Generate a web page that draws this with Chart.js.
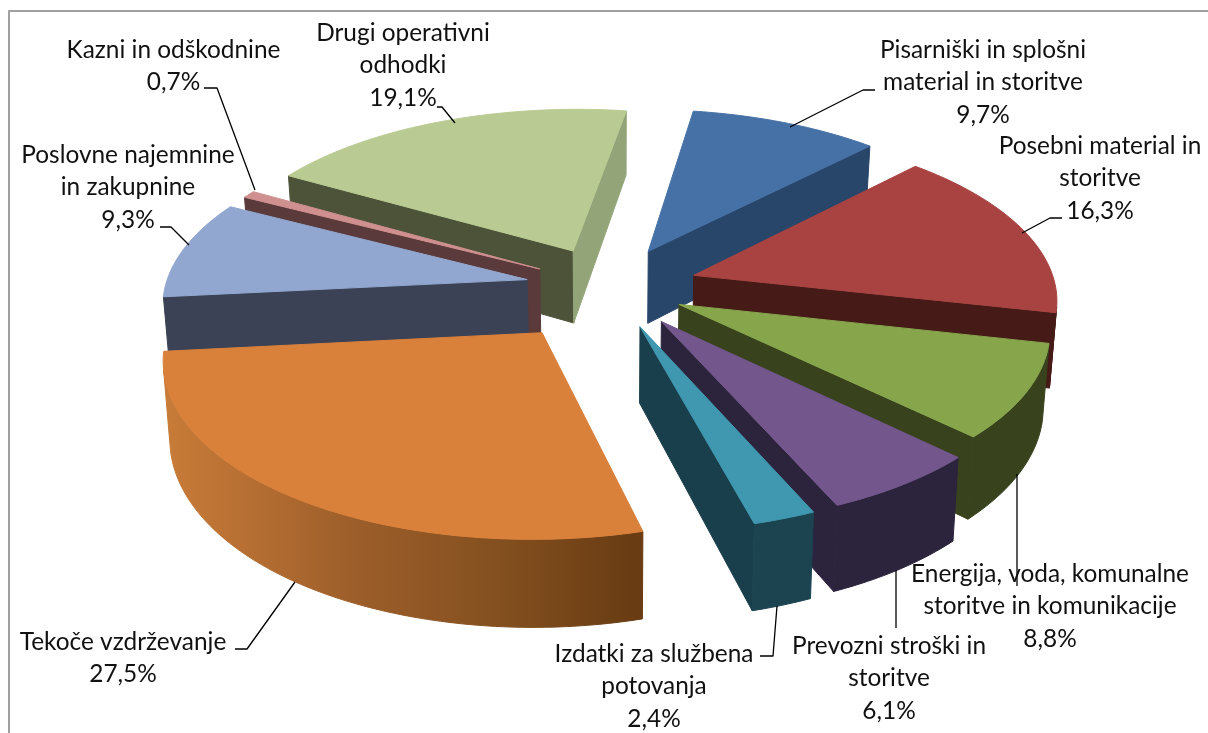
<!DOCTYPE html>
<html><head><meta charset="utf-8">
<style>html,body{margin:0;padding:0;background:#fff}canvas{display:block}</style>
<script src="https://cdn.jsdelivr.net/npm/chart.js@4/dist/chart.umd.min.js"></script>
</head><body>
<div style="width:1208px;height:733px;position:relative"><canvas id="c" width="1208" height="733"></canvas></div>
<script>
const categories = ["Pisarniški in splošni material in storitve","Posebni material in storitve","Energija, voda, komunalne storitve in komunikacije","Prevozni stroški in storitve","Izdatki za službena potovanja","Tekoče vzdrževanje","Poslovne najemnine in zakupnine","Kazni in odškodnine","Drugi operativni odhodki"];
const values = [9.7,16.3,8.8,6.1,2.4,27.5,9.3,0.7,19.1];
const explode = [77,77,67.6,77,77,101,74,71,77];
const topColors = ["#4671A6","#A84341","#87A64C","#72568C","#3F97B0","#D9803B","#91A7CF","#CF908F","#B9CB92"];
const startWall = ["#28456A","#451A17","#38431D","#2C233D","#1A3F4C","#6B3D14","#3B4255","#5A3A3A","#4C5339"];
const endWall = ["#28456A","#451A17","#38431D","#2C233D","#1A3F4C","#8C5525","#3B4255","#5A3A3A","#93A578"];
const outerWall = ["#28456A","#451A17","#38431D","#2C233D","#1B4350","orange","#3B4255","#5A3A3A","#4C5339"];
const paintOrder = [8,0,7,6,1,2,3,4,5];
const labelLines = [["Pisarniški in splošni","material in storitve","9,7%"],["Posebni material in","storitve","16,3%"],["Energija, voda, komunalne","storitve in komunikacije","8,8%"],["Prevozni stroški in","storitve","6,1%"],["Izdatki za službena","potovanja","2,4%"],["Tekoče vzdrževanje","27,5%"],["Poslovne najemnine","in zakupnine","9,3%"],["Kazni in odškodnine","0,7%"],["Drugi operativni","odhodki","19,1%"]];
const labelX = [983,1100,1050,889,654,123,128,173.5,403];
const labelY = [50,146,574,646,654,642,155,50,33];
const leaders = [[[875,90],[863,90],[790,127]],[[1062,218],[1050,218],[1022,233]],[[1017,474],[1017,586]],[[896,570],[896,628]],[[777,606],[773,656],[760,656]],[[295,582],[247,649],[235,649]],[[160,227],[171,227],[189,245]],[[204,88],[217,88],[255,190]],[[437,107],[442,107],[455,123]]];
const VIEW = {x0:610,y0:287,a:362,b:168,p:0.126,depth:74,shrink:0.985};

function project(X,Y,z){
  const w = 1+VIEW.p*Y, s = z?VIEW.shrink:1;
  return [VIEW.x0+VIEW.a*s*X/w, VIEW.y0-VIEW.b*Y/w+(z?VIEW.depth/w:0)];
}
function area(p){let s=0;p.forEach((q,i)=>{const r=p[(i+1)%p.length];s+=q[0]*r[1]-r[0]*q[1];});return s/2;}
function poly(ctx,pts,fill){
  ctx.beginPath();pts.forEach((p,i)=>i?ctx.lineTo(p[0],p[1]):ctx.moveTo(p[0],p[1]));ctx.closePath();
  ctx.fillStyle=fill;ctx.fill();ctx.strokeStyle=fill;ctx.lineWidth=1;ctx.lineJoin="round";ctx.stroke();
}
const pie3d = {
  id:'pie3d',
  beforeDatasetDraw(chart,args){
    const ctx=chart.ctx, arcs=args.meta.data;
    const grad=ctx.createLinearGradient(170,0,635,0);
    grad.addColorStop(0,"#C77B38");grad.addColorStop(.15,"#B87033");grad.addColorStop(.4,"#9C5E2A");grad.addColorStop(.7,"#84501F");grad.addColorStop(1,"#693C13");
    paintOrder.forEach(i=>{
      const el=arcs[i], R=el.outerRadius, e=el.options.offset/R;
      const a0=el.startAngle+Math.PI/2, a1=el.endAngle+Math.PI/2, m=(a0+a1)/2;
      const ox=e*Math.sin(m), oy=e*Math.cos(m);
      const n=Math.max(2,Math.ceil((a1-a0)*60)), rim=[];
      for(let k=0;k<=n;k++){const t=a0+(a1-a0)*k/n;rim.push([ox+Math.sin(t),oy+Math.cos(t)]);}
      const P=(q,z)=>project(q[0],q[1],z), apex=[ox,oy];
      const qs=[P(apex,0),P(rim[0],0),P(rim[0],1),P(apex,1)];
      if(area(qs)<0) poly(ctx,qs,startWall[i]);
      const qe=[P(apex,0),P(rim[n],0),P(rim[n],1),P(apex,1)];
      if(area(qe)>0) poly(ctx,qe,endWall[i]);
      const fill=outerWall[i]==="orange"?grad:outerWall[i];
      let run=[];
      const flush=()=>{ if(run.length){ poly(ctx,[...run.map(q=>P(q,0)),...run.slice().reverse().map(q=>P(q,1))],fill); run=[]; } };
      for(let k=0;k<n;k++){
        const vis=area([P(rim[k],0),P(rim[k+1],0),P(rim[k+1],1),P(rim[k],1)])<0;
        if(vis){ if(!run.length) run.push(rim[k]); run.push(rim[k+1]); } else flush();
      }
      flush();
      poly(ctx,[P(apex,0),...rim.map(q=>P(q,0))],topColors[i]);
    });
    return false;
  },
  afterDraw(chart){
    const ctx=chart.ctx;
    ctx.save();
    ctx.strokeStyle="#A0A0A0";ctx.lineWidth=2;
    ctx.beginPath();ctx.moveTo(9,733);ctx.lineTo(9,11);ctx.lineTo(1208,11);ctx.stroke();
    ctx.strokeStyle="#000";ctx.lineWidth=1.3;
    leaders.forEach(l=>{ctx.beginPath();l.forEach((p,i)=>i?ctx.lineTo(p[0],p[1]):ctx.moveTo(p[0],p[1]));ctx.stroke();});
    ctx.fillStyle="#111";ctx.font='24.4px Lato';ctx.textAlign="center";ctx.textBaseline="middle";
    labelLines.forEach((lines,i)=>lines.forEach((t,j)=>ctx.fillText(t,labelX[i],labelY[i]+j*32.6)));
    ctx.restore();
  }
};
new Chart(document.getElementById('c'),{
  type:'pie',
  data:{labels:categories,datasets:[{data:values,backgroundColor:topColors,borderWidth:0,offset:explode}]},
  options:{responsive:false,animation:false,rotation:9,
    plugins:{legend:{display:false},tooltip:{enabled:false}}},
  plugins:[pie3d]
});
</script>
</body></html>
